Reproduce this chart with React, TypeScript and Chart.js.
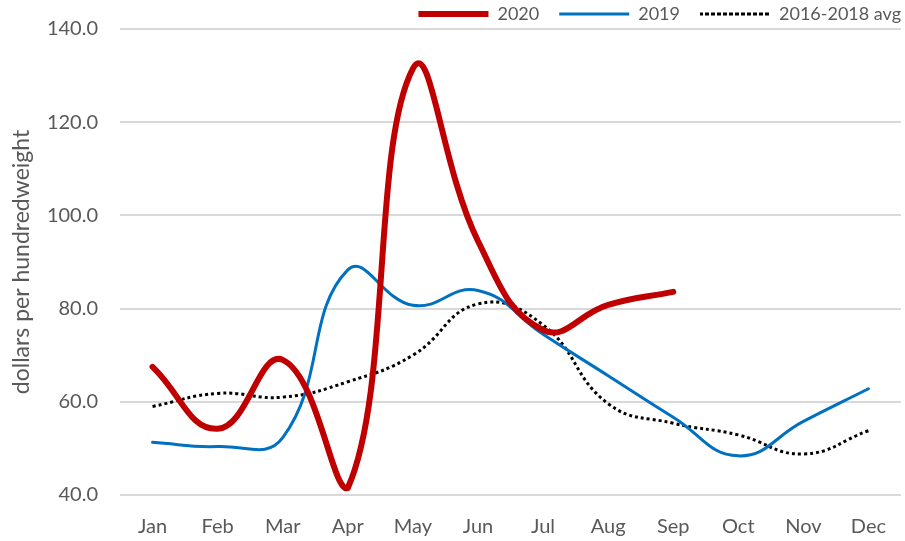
import React, { useEffect, useRef } from "react";
import { Chart, registerables } from "chart.js";

Chart.register(...registerables);

const months = ["Jan", "Feb", "Mar", "Apr", "May", "Jun", "Jul", "Aug", "Sep", "Oct", "Nov", "Dec"];
const values2020 = [67.5, 54.2, 69.0, 41.5, 131.5, 94.5, 75.4, 80.8, 83.6, null, null, null];
const values2019 = [51.3, 50.4, 52.3, 88.3, 80.7, 83.9, 74.5, 65.6, 56.7, 48.4, 55.8, 62.8];
const valuesAvg = [59.0, 61.8, 61.0, 64.3, 70.0, 81.0, 76.5, 59.6, 55.4, 52.9, 48.8, 53.8];
const yTicks = { min: 40, max: 140, step: 20 };

const FONT = "Lato";
const TEXT = "#595959";
const LEGEND_PAD = 20;

export default function App() {
  const ref = useRef<HTMLCanvasElement | null>(null);
  useEffect(() => {
    document.body.style.margin = "0";
    if (!ref.current) return;
    const legendFix = {
      id: "legendFix",
      beforeInit(chart: any) {
        const lg = chart.legend;
        if (!lg) return;
        const orig = lg.fit;
        lg.fit = function () {
          orig.call(this);
          this.height = 29;
        };
      },
      afterUpdate(chart: any) {
        const lg = chart.legend;
        if (lg) {
          lg.top = 14 - LEGEND_PAD - 9;
          lg.bottom = 30;
          lg.left = 300;
          lg.right = 901 + LEGEND_PAD;
        }
      },
    };
    const chart = new Chart(ref.current, {
      type: "line",
      data: {
        labels: months,
        datasets: [
          {
            label: "2020",
            data: values2020,
            borderColor: "#C00000",
            backgroundColor: "#C00000",
            borderWidth: 6,
            borderCapStyle: "round",
            pointRadius: 0,
            tension: 0.45,
            spanGaps: false,
          },
          {
            label: "2019",
            data: values2019,
            borderColor: "#0070C0",
            backgroundColor: "#0070C0",
            borderWidth: 3,
            borderCapStyle: "round",
            pointRadius: 0,
            tension: 0.45,
          },
          {
            label: "2016-2018 avg",
            data: valuesAvg,
            borderColor: "#000000",
            backgroundColor: "#000000",
            borderWidth: 3,
            borderDash: [3, 3],
            borderCapStyle: "butt",
            pointRadius: 0,
            tension: 0.45,
          },
        ],
      },
      options: {
        animation: false,
        responsive: true,
        maintainAspectRatio: false,
        layout: { padding: { left: 0, right: 4, top: 0, bottom: 0 } },
        plugins: {
          tooltip: { enabled: false },
          legend: {
            position: "top",
            align: "end",
            labels: {
              boxWidth: 70,
              boxHeight: 0,
              padding: LEGEND_PAD,
              color: TEXT,
              font: { family: FONT, size: 18 },
            },
          },
        },
        scales: {
          x: {
            offset: true,
            grid: { display: false },
            border: { display: false },
            ticks: { color: TEXT, font: { family: FONT, size: 20 }, padding: 12, maxRotation: 0 },
            afterFit(scale: any) {
              scale.height = 46;
            },
          },
          y: {
            min: yTicks.min,
            max: yTicks.max,
            grid: { color: "#d9d9d9", lineWidth: 2, drawTicks: false },
            border: { display: false },
            ticks: {
              stepSize: yTicks.step,
              color: TEXT,
              font: { family: FONT, size: 20 },
              padding: 22,
              callback: (v: any) => Number(v).toFixed(1),
            },
            title: {
              display: true,
              text: "dollars per hundredweight",
              color: TEXT,
              font: { family: FONT, size: 23 },
              padding: { top: 8, bottom: 0 },
            },
            afterFit(scale: any) {
              scale.width = 120;
              scale.paddingTop = 0;
              scale.paddingBottom = 0;
            },
          },
        },
      },
      plugins: [legendFix],
    } as any);
    return () => chart.destroy();
  }, []);
  return (
    <div style={{ position: "absolute", left: 0, top: 0, width: 905, height: 541 }}>
      <canvas ref={ref} />
    </div>
  );
}
